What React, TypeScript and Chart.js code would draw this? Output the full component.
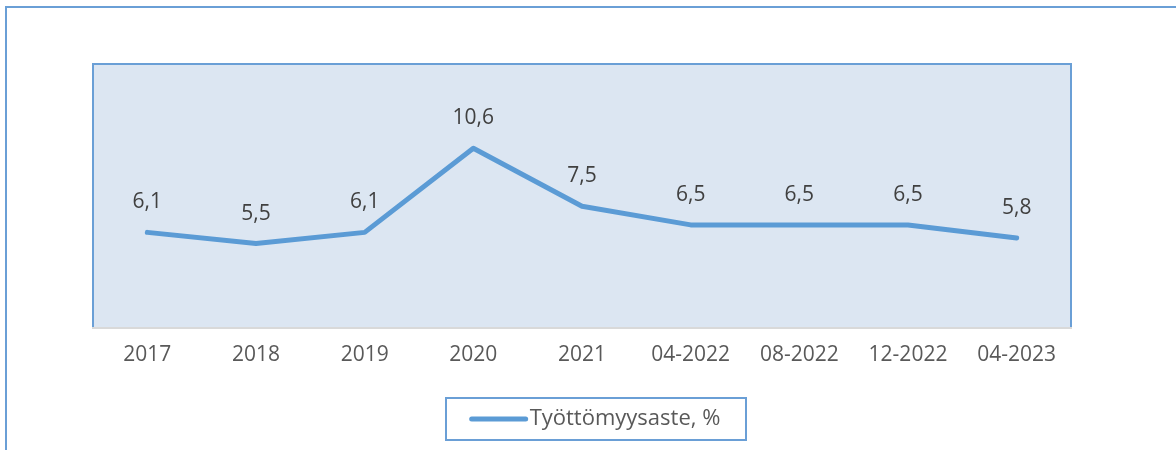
import React, { useEffect, useRef } from "react";
import { Chart, registerables } from "chart.js";

Chart.register(...registerables);

const categories = ["2017", "2018", "2019", "2020", "2021", "04-2022", "08-2022", "12-2022", "04-2023"];
const unemployment = [6.1, 5.5, 6.1, 10.6, 7.5, 6.5, 6.5, 6.5, 5.8];
const seriesLabel = "Työttömyysaste, %";

const FONT = "'Open Sans', 'DejaVu Sans', sans-serif";
const BLUE = "#5b9bd5";
const FRAME = "#6a9fd6";

const framePlugin = {
  id: "frame",
  beforeDraw(chart: any) {
    const { ctx, chartArea: a } = chart;
    ctx.save();
    ctx.fillStyle = "#ffffff";
    ctx.fillRect(0, 0, chart.width, chart.height);
    // outer frame (top + left)
    ctx.strokeStyle = FRAME;
    ctx.lineWidth = 2;
    ctx.beginPath();
    ctx.moveTo(6, chart.height);
    ctx.lineTo(6, 7);
    ctx.lineTo(chart.width, 7);
    ctx.stroke();
    // plot area
    ctx.fillStyle = "#dce6f2";
    ctx.fillRect(a.left, a.top, a.right - a.left, a.bottom - a.top);
    ctx.strokeStyle = FRAME;
    ctx.lineWidth = 2;
    ctx.beginPath();
    ctx.moveTo(a.left, a.bottom);
    ctx.lineTo(a.left, a.top);
    ctx.lineTo(a.right, a.top);
    ctx.lineTo(a.right, a.bottom);
    ctx.stroke();
    ctx.restore();
  },
  afterDatasetsDraw(chart: any) {
    const { ctx } = chart;
    const meta = chart.getDatasetMeta(0);
    const data = chart.data.datasets[0].data as number[];
    ctx.save();
    ctx.font = `21px ${FONT}`;
    ctx.fillStyle = "#404040";
    ctx.textAlign = "center";
    ctx.textBaseline = "middle";
    meta.data.forEach((pt: any, i: number) => {
      ctx.fillText(String(data[i]).replace(".", ","), pt.x, pt.y - 30);
    });
    ctx.restore();
  },
  afterDraw(chart: any) {
    const { ctx } = chart;
    const label = chart.data.datasets[0].label as string;
    ctx.save();
    ctx.font = `22px ${FONT}`;
    const tw = ctx.measureText(label).width;
    const boxW = 300;
    const boxH = 42;
    const bx = 446;
    const by = 398;
    ctx.strokeStyle = FRAME;
    ctx.lineWidth = 2;
    ctx.strokeRect(bx, by, boxW, boxH);
    const cy = by + boxH / 2;
    const lineW = 54;
    const startX = bx + (boxW - (lineW + 4 + tw)) / 2;
    ctx.strokeStyle = BLUE;
    ctx.lineWidth = 5;
    ctx.lineCap = "round";
    ctx.beginPath();
    ctx.moveTo(startX, cy);
    ctx.lineTo(startX + lineW, cy);
    ctx.stroke();
    ctx.fillStyle = "#595959";
    ctx.textAlign = "left";
    ctx.textBaseline = "middle";
    ctx.fillText(label, startX + lineW + 4, cy);
    ctx.restore();
  },
};

export default function App() {
  const ref = useRef<HTMLCanvasElement | null>(null);
  useEffect(() => {
    if (!ref.current) return;
    const chart = new Chart(ref.current, {
      type: "line",
      data: {
        labels: categories,
        datasets: [
          {
            label: seriesLabel,
            data: unemployment,
            borderColor: BLUE,
            backgroundColor: BLUE,
            borderWidth: 5,
            pointRadius: 0,
            tension: 0,
            borderCapStyle: "round",
            borderJoinStyle: "round",
          },
        ],
      },
      options: {
        responsive: false,
        animation: false,
        layout: { padding: { left: 93, right: 105, top: 64, bottom: 67 } },
        plugins: { legend: { display: false }, tooltip: { enabled: false } },
        scales: {
          x: {
            offset: true,
            grid: { display: false, drawTicks: false },
            border: { display: true, color: "#d9d9d9", width: 2 },
            ticks: { color: "#595959", font: { family: FONT, size: 21 }, padding: 15 },
          },
          y: { display: false, min: 1, max: 15.1 },
        },
      },
      plugins: [framePlugin],
    });
    return () => chart.destroy();
  }, []);
  return (
    <div style={{ position: "absolute", left: 0, top: 0, width: 1176, height: 450, background: "#fff" }}>
      <canvas ref={ref} width={1176} height={450} style={{ display: "block" }} />
    </div>
  );
}
